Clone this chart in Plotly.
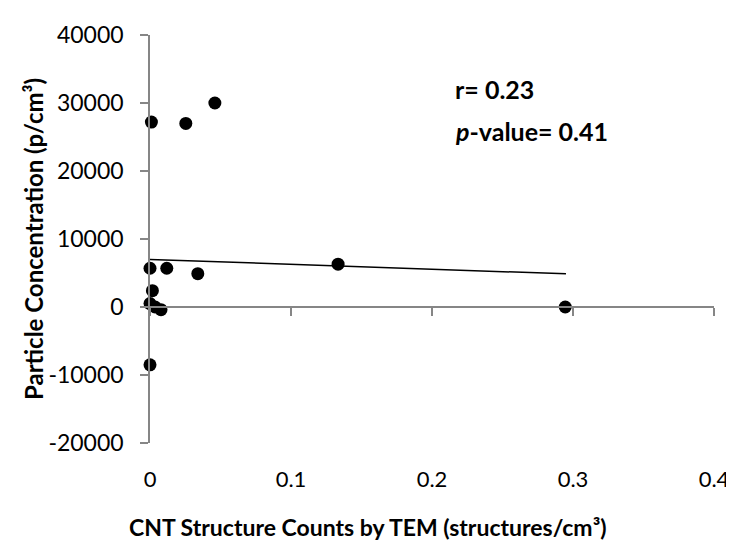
import plotly.graph_objects as go

# Data
cnt_x = [0.046, 0.001, 0.0254, 0.0, 0.0119, 0.0339, 0.0017, 0.0, 0.0036, 0.0078, 0.0, 0.1334, 0.2945]
particle_y = [30000, 27200, 27000, 5700, 5700, 4900, 2400, 500, 0, -400, -8500, 6300, 0]

trend_x = [0.0, 0.295]
trend_y = [7000, 4880]

y_tickvals = [-20000, -10000, 0, 10000, 20000, 30000, 40000]
y_ticktext = ["-20000", "-10000", "0", "10000", "20000", "30000", "40000"]
x_tickvals = [0, 0.1, 0.2, 0.3, 0.4]
x_ticktext = ["0", "0.1", "0.2", "0.3", "0.4"]

Y_RANGE = [-20000, 40000]
X_RANGE = [0, 0.4]

FONT = "Lato"
AXIS_GRAY = "#868686"

W, H = 734, 541
ML, MT, MR, MB = 142, 13, 28, 106
PW, PH = W - ML - MR, H - MT - MB

fig = go.Figure()

fig.add_trace(go.Scatter(
    x=trend_x, y=trend_y, mode="lines",
    line=dict(color="black", width=1.5),
    hoverinfo="skip", showlegend=False,
))

fig.add_trace(go.Scatter(
    x=cnt_x, y=particle_y, mode="markers",
    marker=dict(color="black", size=13),
    cliponaxis=False, showlegend=False,
))

# dummy trace to carry the crossing x axis at y=0
fig.add_trace(go.Scatter(x=[None], y=[None], xaxis="x2", yaxis="y",
                         showlegend=False, hoverinfo="skip"))

zero_pos = (0 - Y_RANGE[0]) / (Y_RANGE[1] - Y_RANGE[0])

fig.update_layout(
    width=W, height=H,
    margin=dict(l=ML, r=MR, t=MT, b=MB),
    paper_bgcolor="white", plot_bgcolor="white",
    font=dict(family=FONT, size=22, color="black"),
    xaxis=dict(
        range=X_RANGE, tickvals=x_tickvals, ticktext=x_ticktext,
        showline=False, ticks="", showgrid=False, zeroline=False,
        ticklabelstandoff=21, ticklabeloverflow="allow",
        tickfont=dict(family=FONT, size=22, color="black"),
    ),
    xaxis2=dict(
        range=X_RANGE, overlaying="x", anchor="free", position=zero_pos,
        tickvals=x_tickvals, showticklabels=False,
        showline=True, linecolor=AXIS_GRAY, linewidth=1.5,
        ticks="outside", ticklen=8, tickcolor=AXIS_GRAY, tickwidth=1.5,
        showgrid=False, zeroline=False,
    ),
    yaxis=dict(
        range=Y_RANGE, tickvals=y_tickvals, ticktext=y_ticktext,
        showline=True, linecolor=AXIS_GRAY, linewidth=1.5,
        ticks="outside", ticklen=8, tickcolor=AXIS_GRAY, tickwidth=1.5,
        showgrid=False, zeroline=False, ticklabelstandoff=12,
        ticklabeloverflow="allow",
        tickfont=dict(family=FONT, size=23, color="black"),
    ),
    annotations=[
        dict(text="<b>Particle Concentration (p/cm³)</b>", xref="paper", yref="paper",
             x=0, y=0.5, xanchor="center", yanchor="middle",
             textangle=-90, showarrow=False, font=dict(family=FONT, size=24),
             xshift=-117),
        dict(text="<b>CNT Structure Counts by TEM (structures/cm³)</b>", xref="paper", yref="paper",
             x=(360 - ML) / PW, y=0, xanchor="center", yanchor="middle", showarrow=False,
             font=dict(family=FONT, size=23), yshift=-84),
        dict(text="<b>r= 0.23</b>", xref="paper", yref="paper", x=(445 - ML) / PW,
             y=1 - (69 - MT) / PH, xanchor="left", yanchor="middle", showarrow=False,
             font=dict(family=FONT, size=25)),
        dict(text="<b><i>p</i>-value= 0.41</b>", xref="paper", yref="paper", x=(445 - ML) / PW,
             y=1 - (112 - MT) / PH, xanchor="left", yanchor="middle", showarrow=False,
             font=dict(family=FONT, size=25)),
    ],
)

fig.write_html("out.html")
